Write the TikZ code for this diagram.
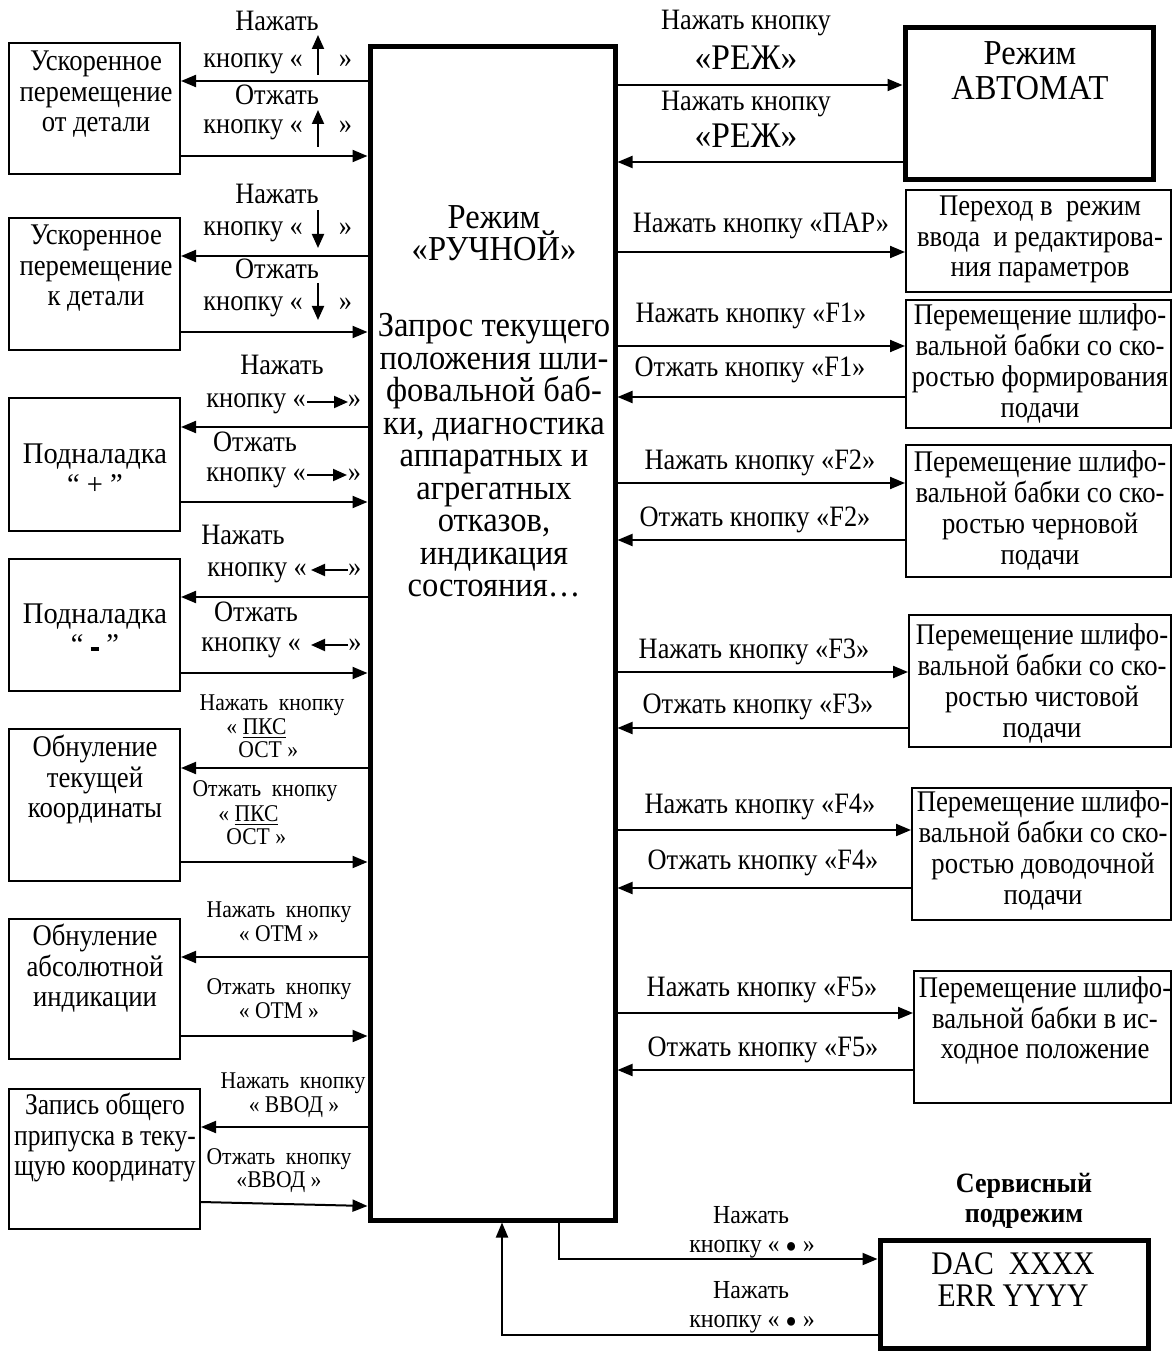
\documentclass[tikz,border=0pt]{standalone}
\usepackage{fontspec}
\usepackage{graphicx}
\setmainfont{Liberation Serif}
\usetikzlibrary{arrows.meta,fit}
\newcommand\sqz[2]{\scalebox{#1}[1]{\vbox{\lineskiplimit=-\maxdimen\let\\\cr
  \halign{\hfil\strut##\hfil\cr#2\crcr}}}}
\newcommand\bt[1]{\sqz{0.89}{#1}}
\newcommand\ct[1]{\sqz{0.93}{#1}}
\newcommand\st[1]{\sqz{0.9}{#1}}
\newcommand\dt[1]{\sqz{0.92}{#1}}
\tikzset{
  box/.style={draw, line width=1pt, inner sep=0pt},
  thickbox/.style={draw, line width=2.5pt, inner sep=0pt},
  arr/.style={line width=1pt, -{Triangle[length=7.5pt,width=6pt]}},
  ico/.style={line width=1pt, -{Triangle[length=7pt,width=6pt]}},
  btxt/.style={inner sep=0pt, font=\fontsize{15}{15.4}\selectfont},
  rtxt/.style={inner sep=0pt, font=\fontsize{15}{15.4}\selectfont},
  ctxt/.style={inner sep=0pt, font=\fontsize{17.5}{16.25}\selectfont},
  atxt/.style={inner sep=0pt, font=\fontsize{17.5}{17.5}\selectfont},
  lbl/.style={inner sep=0pt, font=\fontsize{14.8}{15}\selectfont},
  rlbl/.style={inner sep=0pt, font=\fontsize{18}{18}\selectfont},
  slbl/.style={inner sep=0pt, font=\fontsize{12}{12}\selectfont},
  plbl/.style={inner sep=0pt, font=\fontsize{12}{12}\selectfont},
  dlbl/.style={inner sep=0pt, font=\fontsize{13}{13}\selectfont},
  svc/.style={inner sep=0pt, font=\bfseries\fontsize{14}{15}\selectfont},
  dtxt/.style={inner sep=0pt, font=\fontsize{16.5}{16}\selectfont},
}
\newcommand\dotsym{{\fontsize{10}{10}\selectfont ●}}
\newcommand\minusbar{\rule[0.12em]{0.3em}{0.13em}}
\begin{document}
\begin{tikzpicture}[x=0.5pt,y=-0.5pt]
\useasboundingbox (0,0) rectangle (1173,1353);

% central box
\node[thickbox, fit={(370,47) (615,1220)}] (main) {};
\node[ctxt] (mt1) at (494,238) {\ct{Режим\\«РУЧНОЙ»}};
\node[ctxt] (mt2) at (494,460) {\ct{Запрос текущего\\положения шли-\\фовальной баб-\\ки, диагностика\\аппаратных и\\агрегатных\\отказов,\\индикация\\состояния…}};

% left boxes
\node[box, fit={(9,43) (180,174)}] (b1) {};
\node[btxt] (b1t) at (96,95) {\bt{Ускоренное\\перемещение\\от детали}};
\node[box, fit={(9,218) (180,350)}] (b2) {};
\node[btxt] (b2t) at (96,269) {\bt{Ускоренное\\перемещение\\к детали}};
\node[box, fit={(9,398) (180,531)}] (b3) {};
\node[btxt] (b3t) at (95,473) {\sqz{0.95}{Подналадка\\“ + ”}};
\node[box, fit={(9,559) (180,691)}] (b4) {};
\node[btxt] (b4t) at (95,633) {\sqz{0.95}{Подналадка\\“ \minusbar\ ”}};
\node[box, fit={(9,729) (180,881)}] (b5) {};
\node[btxt] (b5t) at (95,781) {\bt{Обнуление\\текущей\\координаты}};
\node[box, fit={(9,919) (180,1059)}] (b6) {};
\node[btxt] (b6t) at (95,970) {\bt{Обнуление\\абсолютной\\индикации}};
\node[box, fit={(9,1089) (200,1229)}] (b7) {};
\node[btxt] (b7t) at (105,1139) {\sqz{0.85}{Запись общего\\припуска в теку-\\щую координату}};

% left connectors
\draw[arr] (main.west |- 0,81) -- (b1.east |- 0,81);
\draw[arr] (b1.east |- 0,156) -- (main.west |- 0,156);
\draw[arr] (main.west |- 0,256) -- (b2.east |- 0,256);
\draw[arr] (b2.east |- 0,332) -- (main.west |- 0,332);
\draw[arr] (main.west |- 0,427) -- (b3.east |- 0,427);
\draw[arr] (b3.east |- 0,502) -- (main.west |- 0,502);
\draw[arr] (main.west |- 0,597) -- (b4.east |- 0,597);
\draw[arr] (b4.east |- 0,673) -- (main.west |- 0,673);
\draw[arr] (main.west |- 0,768) -- (b5.east |- 0,768);
\draw[arr] (b5.east |- 0,862) -- (main.west |- 0,862);
\draw[arr] (main.west |- 0,957) -- (b6.east |- 0,957);
\draw[arr] (b6.east |- 0,1036) -- (main.west |- 0,1036);
\draw[arr] (main.west |- 0,1127) -- (b7.east |- 0,1127);
\draw[arr] (b7.east |- 0,1202) -- (main.west |- 0,1206);

% left labels
\node[lbl] (l1a) at (277,25) {\bt{Нажать}};
\node[lbl, anchor=west] (l1b) at (203,62) {\bt{кнопку «\hspace{20.2pt}»}};
\draw[ico] (318,75) -- (318,35);
\node[lbl] (l1c) at (277,99) {\bt{Отжать}};
\node[lbl, anchor=west] (l1d) at (203,128) {\bt{кнопку «\hspace{20.2pt}»}};
\draw[ico] (318,147) -- (318,110);

\node[lbl] (l2a) at (277,198) {\bt{Нажать}};
\node[lbl, anchor=west] (l2b) at (203,230) {\bt{кнопку «\hspace{20.2pt}»}};
\draw[ico] (318,210) -- (318,248);
\node[lbl] (l2c) at (277,273) {\bt{Отжать}};
\node[lbl, anchor=west] (l2d) at (203,305) {\bt{кнопку «\hspace{20.2pt}»}};
\draw[ico] (318,283) -- (318,320);

\node[lbl] (l3a) at (282,368) {\bt{Нажать}};
\node[lbl, anchor=west] (l3b) at (206,402) {\bt{кнопку «\hspace{23.6pt}»}};
\draw[ico] (307,402) -- (348,402);
\node[lbl] (l3c) at (255,445) {\bt{Отжать}};
\node[lbl, anchor=west] (l3d) at (206,475) {\bt{кнопку «\hspace{23.6pt}»}};
\draw[ico] (307,475) -- (347,475);

\node[lbl] (l4a) at (243,538) {\bt{Нажать}};
\node[lbl, anchor=west] (l4b) at (207,570) {\bt{кнопку «\hspace{23.2pt}»}};
\draw[ico] (348,570) -- (311,570);
\node[lbl] (l4c) at (256,615) {\bt{Отжать}};
\node[lbl, anchor=west] (l4d) at (201,645) {\bt{кнопку «\hspace{26.6pt}»}};
\draw[ico] (348,645) -- (311,645);

\node[slbl] (l5a) at (272,706) {\st{Нажать~ кнопку}};
\node[plbl, anchor=west] (l5b) at (226,730) {\st{« \underline{ПКС}}};
\node[plbl, anchor=west] (l5c) at (238,753) {\st{ОСТ »}};
\node[slbl] (l5d) at (265,792) {\st{Отжать~ кнопку}};
\node[plbl, anchor=west] (l5e) at (218,817) {\st{« \underline{ПКС}}};
\node[plbl, anchor=west] (l5f) at (226,840) {\st{ОСТ »}};

\node[slbl] (l6a) at (279,913) {\st{Нажать~ кнопку}};
\node[plbl] (l6b) at (279,937) {\st{« ОТМ »}};
\node[slbl] (l6c) at (279,990) {\st{Отжать~ кнопку}};
\node[plbl] (l6d) at (279,1014) {\st{« ОТМ »}};

\node[slbl] (l7a) at (293,1084) {\st{Нажать~ кнопку}};
\node[plbl] (l7b) at (294,1108) {\st{« ВВОД »}};
\node[slbl] (l7c) at (279,1160) {\st{Отжать~ кнопку}};
\node[plbl] (l7d) at (279,1183) {\st{«ВВОД »}};

% right boxes
\node[thickbox, fit={(905,28) (1153,180)}] (auto) {};
\node[atxt] (autot) at (1030,75) {\ct{Режим\\АВТОМАТ}};
\node[box, fit={(906,190) (1171,292)}] (par) {};
\node[rtxt] (part) at (1040,240) {\bt{Переход в~ режим\\ввода~ и редактирова-\\ния параметров}};
\node[box, fit={(906,300) (1171,428)}] (f1) {};
\node[rtxt] (f1t) at (1040,365) {\bt{Перемещение шлифо-\\вальной бабки со ско-\\ростью формирования\\подачи}};
\node[box, fit={(906,445) (1171,577)}] (f2) {};
\node[rtxt] (f2t) at (1040,512) {\bt{Перемещение шлифо-\\вальной бабки со ско-\\ростью черновой\\подачи}};
\node[box, fit={(909,615) (1171,747)}] (f3) {};
\node[rtxt] (f3t) at (1042,685) {\bt{Перемещение шлифо-\\вальной бабки со ско-\\ростью чистовой\\подачи}};
\node[box, fit={(912,788) (1171,920)}] (f4) {};
\node[rtxt] (f4t) at (1043,852) {\bt{Перемещение шлифо-\\вальной бабки со ско-\\ростью доводочной\\подачи}};
\node[box, fit={(914,971) (1171,1103)}] (f5) {};
\node[rtxt] (f5t) at (1045,1022) {\bt{Перемещение шлифо-\\вальной бабки в ис-\\ходное положение}};

% right connectors
\draw[arr] (main.east |- 0,85) -- (auto.west |- 0,85);
\draw[arr] (auto.west |- 0,162) -- (main.east |- 0,162);
\draw[arr] (main.east |- 0,252) -- (par.west |- 0,252);
\draw[arr] (main.east |- 0,346) -- (f1.west |- 0,346);
\draw[arr] (f1.west |- 0,397) -- (main.east |- 0,397);
\draw[arr] (main.east |- 0,483) -- (f2.west |- 0,483);
\draw[arr] (f2.west |- 0,540) -- (main.east |- 0,540);
\draw[arr] (main.east |- 0,672) -- (f3.west |- 0,672);
\draw[arr] (f3.west |- 0,728) -- (main.east |- 0,728);
\draw[arr] (main.east |- 0,830) -- (f4.west |- 0,830);
\draw[arr] (f4.west |- 0,888) -- (main.east |- 0,888);
\draw[arr] (main.east |- 0,1013) -- (f5.west |- 0,1013);
\draw[arr] (f5.west |- 0,1070) -- (main.east |- 0,1070);

% right labels
\node[lbl] (r1a) at (746,24) {\bt{Нажать кнопку}};
\node[rlbl] (r1b) at (746,62) {\ct{«РЕЖ»}};
\node[lbl] (r2a) at (746,105) {\bt{Нажать кнопку}};
\node[rlbl] (r2b) at (746,140) {\ct{«РЕЖ»}};
\node[lbl] (r3) at (761,227) {\bt{Нажать кнопку «ПАР»}};
\node[lbl] (r4a) at (751,317) {\bt{Нажать кнопку «F1»}};
\node[lbl] (r4b) at (750,370) {\bt{Отжать кнопку «F1»}};
\node[lbl] (r5a) at (760,463) {\bt{Нажать кнопку «F2»}};
\node[lbl] (r5b) at (755,520) {\bt{Отжать кнопку «F2»}};
\node[lbl] (r6a) at (754,652) {\bt{Нажать кнопку «F3»}};
\node[lbl] (r6b) at (758,707) {\bt{Отжать кнопку «F3»}};
\node[lbl] (r7a) at (760,807) {\bt{Нажать кнопку «F4»}};
\node[lbl] (r7b) at (763,863) {\bt{Отжать кнопку «F4»}};
\node[lbl] (r8a) at (762,990) {\bt{Нажать кнопку «F5»}};
\node[lbl] (r8b) at (763,1050) {\bt{Отжать кнопку «F5»}};

% service sub-mode
\node[svc] (svc) at (1024,1201) {\ct{Сервисный\\подрежим}};
\node[thickbox, fit={(880,1240) (1148,1348)}] (dac) {};
\node[dtxt] (dact) at (1013,1284) {\st{DAC~ XXXX\\ERR YYYY}};
\draw[arr] (main.south -| 559,0) |- (dac.west |- 0,1259);
\draw[arr] (dac.west |- 0,1335) -| (main.south -| 502,0);
\node[dlbl] (d1a) at (751,1218) {\dt{Нажать}};
\node[dlbl] (d1b) at (752,1247) {\dt{кнопку « \dotsym\ »}};
\node[dlbl] (d2a) at (751,1293) {\dt{Нажать}};
\node[dlbl] (d2b) at (752,1322) {\dt{кнопку « \dotsym\ »}};
\end{tikzpicture}
\end{document}
